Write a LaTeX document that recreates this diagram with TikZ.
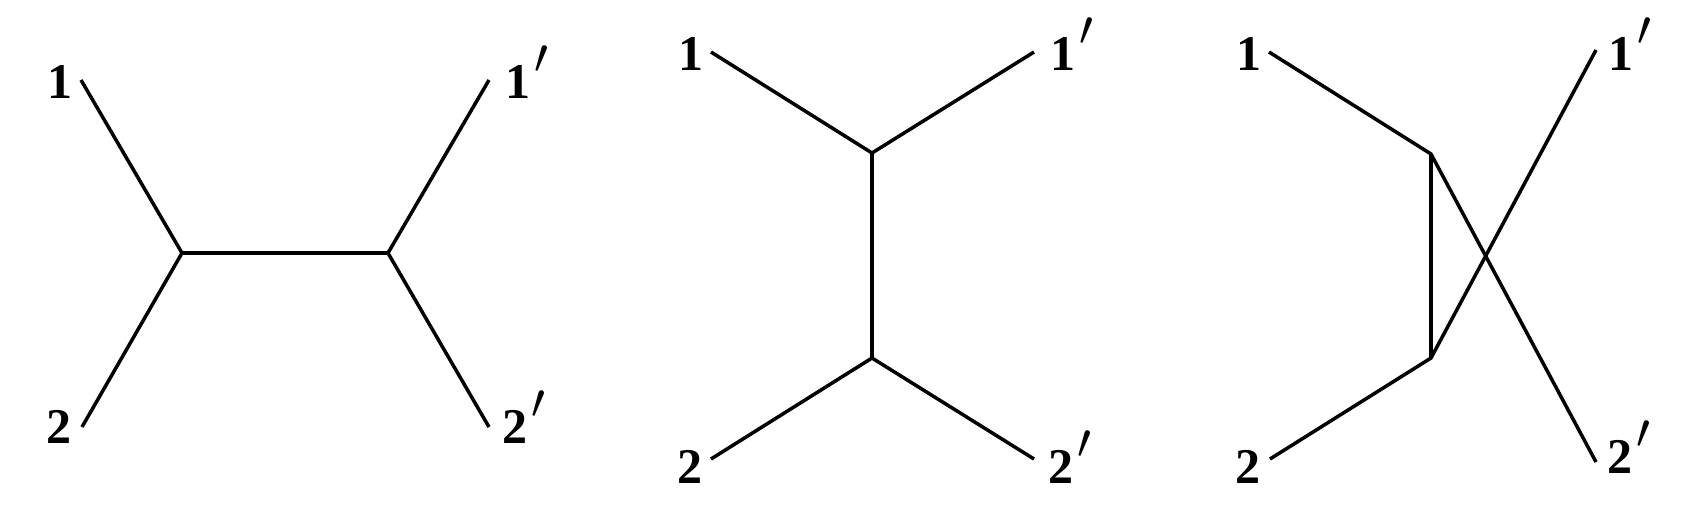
\documentclass[tikz,border=0pt]{standalone}
\usepackage{fontspec}
\setmainfont{Liberation Serif}
\newcommand{\myprime}{\kern2pt\smash{\raisebox{12.5pt}{\fontsize{26}{26}\selectfont$\prime$}}}
\begin{document}
\begin{tikzpicture}[x=0.5pt,y=-0.5pt,
  leg/.style={line width=1.75pt,line join=miter},
  lab/.style={anchor=base west,inner sep=0pt,font=\fontsize{25}{30}\selectfont\bfseries}]
\useasboundingbox (0,0) rectangle (1686,516);
% panel 1
\coordinate (a1) at (81,80);
\coordinate (a2) at (82,427);
\coordinate (av) at (182,253);
\coordinate (aw) at (388,253);
\coordinate (a3) at (489,80);
\coordinate (a4) at (489,427);
\draw[leg] (a1) -- (av) -- (a2);
\draw[leg] (av) -- (aw);
\draw[leg] (a3) -- (aw) -- (a4);
\node[lab] (la1) at (47,98) {1};
\node[lab] (la2) at (46,443) {2};
\node[lab] (la3) at (505,98) {1\myprime};
\node[lab] (la4) at (502,443) {2\myprime};
% panel 2
\coordinate (b1) at (711,52);
\coordinate (b3) at (1034,52);
\coordinate (bv) at (872,153);
\coordinate (bw) at (872,358);
\coordinate (b2) at (711,459);
\coordinate (b4) at (1034,459);
\draw[leg] (b1) -- (bv) -- (b3);
\draw[leg] (bv) -- (bw);
\draw[leg] (b2) -- (bw) -- (b4);
\node[lab] (lb1) at (678,70) {1};
\node[lab] (lb3) at (1050,70) {1\myprime};
\node[lab] (lb2) at (677,483) {2};
\node[lab] (lb4) at (1048,483) {2\myprime};
% panel 3
\coordinate (c1) at (1269,52);
\coordinate (cv) at (1431,154);
\coordinate (cw) at (1431,358);
\coordinate (c2) at (1270,459);
\coordinate (c3) at (1596,50);
\coordinate (c4) at (1596,462);
\draw[leg] (c1) -- (cv) -- (c4);
\draw[leg] (cv) -- (cw);
\draw[leg] (c2) -- (cw) -- (c3);
\node[lab] (lc1) at (1236,70) {1};
\node[lab] (lc3) at (1608,70) {1\myprime};
\node[lab] (lc2) at (1235,483) {2};
\node[lab] (lc4) at (1607,473) {2\myprime};
\end{tikzpicture}
\end{document}
